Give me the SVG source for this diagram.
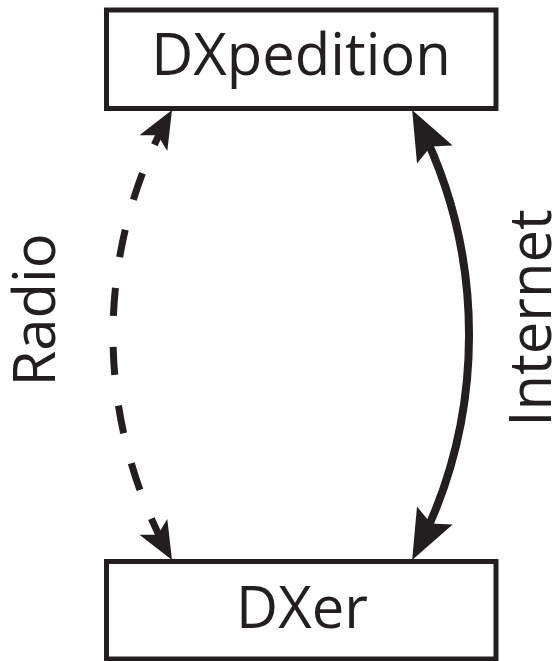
<svg xmlns="http://www.w3.org/2000/svg" width="557" height="661" viewBox="0 0 557 661">
  <style>
    .box { fill: #ffffff; stroke: #231f20; stroke-width: 5; }
    .label { font-family: "Open Sans", "Noto Sans", "Liberation Sans", sans-serif; font-size: 58px; fill: #231f20; text-anchor: middle; }
    .link { fill: none; stroke: #231f20; }
    .radio { stroke-width: 7; stroke-dasharray: 28 31; stroke-dashoffset: 48; }
    .internet { stroke-width: 8; }
  </style>
  <defs>
    <!-- barbed head for the dashed radio link; tip at the marker origin -->
    <marker id="headDashed" markerUnits="userSpaceOnUse" markerWidth="80" markerHeight="80" refX="0" refY="0" orient="auto-start-reverse" overflow="visible">
      <path d="M0,0 L-38,-16 L-29,0 L-38,16 Z" fill="#231f20"/>
    </marker>
    <!-- larger barbed head for the solid internet link; tip sits 12px past the line end -->
    <marker id="headSolid" markerUnits="userSpaceOnUse" markerWidth="100" markerHeight="100" refX="0" refY="0" orient="auto-start-reverse" overflow="visible">
      <path d="M12,0 L-38,-20 L-29,0 L-38,20 Z" fill="#231f20"/>
    </marker>
  </defs>

  <g id="dxpedition">
    <rect class="box" x="106.5" y="10" width="389.5" height="98.5"/>
    <text class="label" x="301" y="75">DXpedition</text>
  </g>

  <g id="dxer">
    <rect class="box" x="106.5" y="561.5" width="389.5" height="97.5"/>
    <text class="label" x="302" y="628">DXer</text>
  </g>

  <g id="connectors">
    <path id="radio-link" class="link radio" d="M172,110 A458.5,458.5 0 0 0 172,560" marker-start="url(#headDashed)" marker-end="url(#headDashed)"/>
    <path id="internet-link" class="link internet" d="M417.6,120.6 A472.6,472.6 0 0 1 417.6,549.4" marker-start="url(#headSolid)" marker-end="url(#headSolid)"/>
    <text class="label" transform="translate(55,310) rotate(-90)">Radio</text>
    <text class="label" transform="translate(551,318) rotate(-90)">Internet</text>
  </g>
</svg>
